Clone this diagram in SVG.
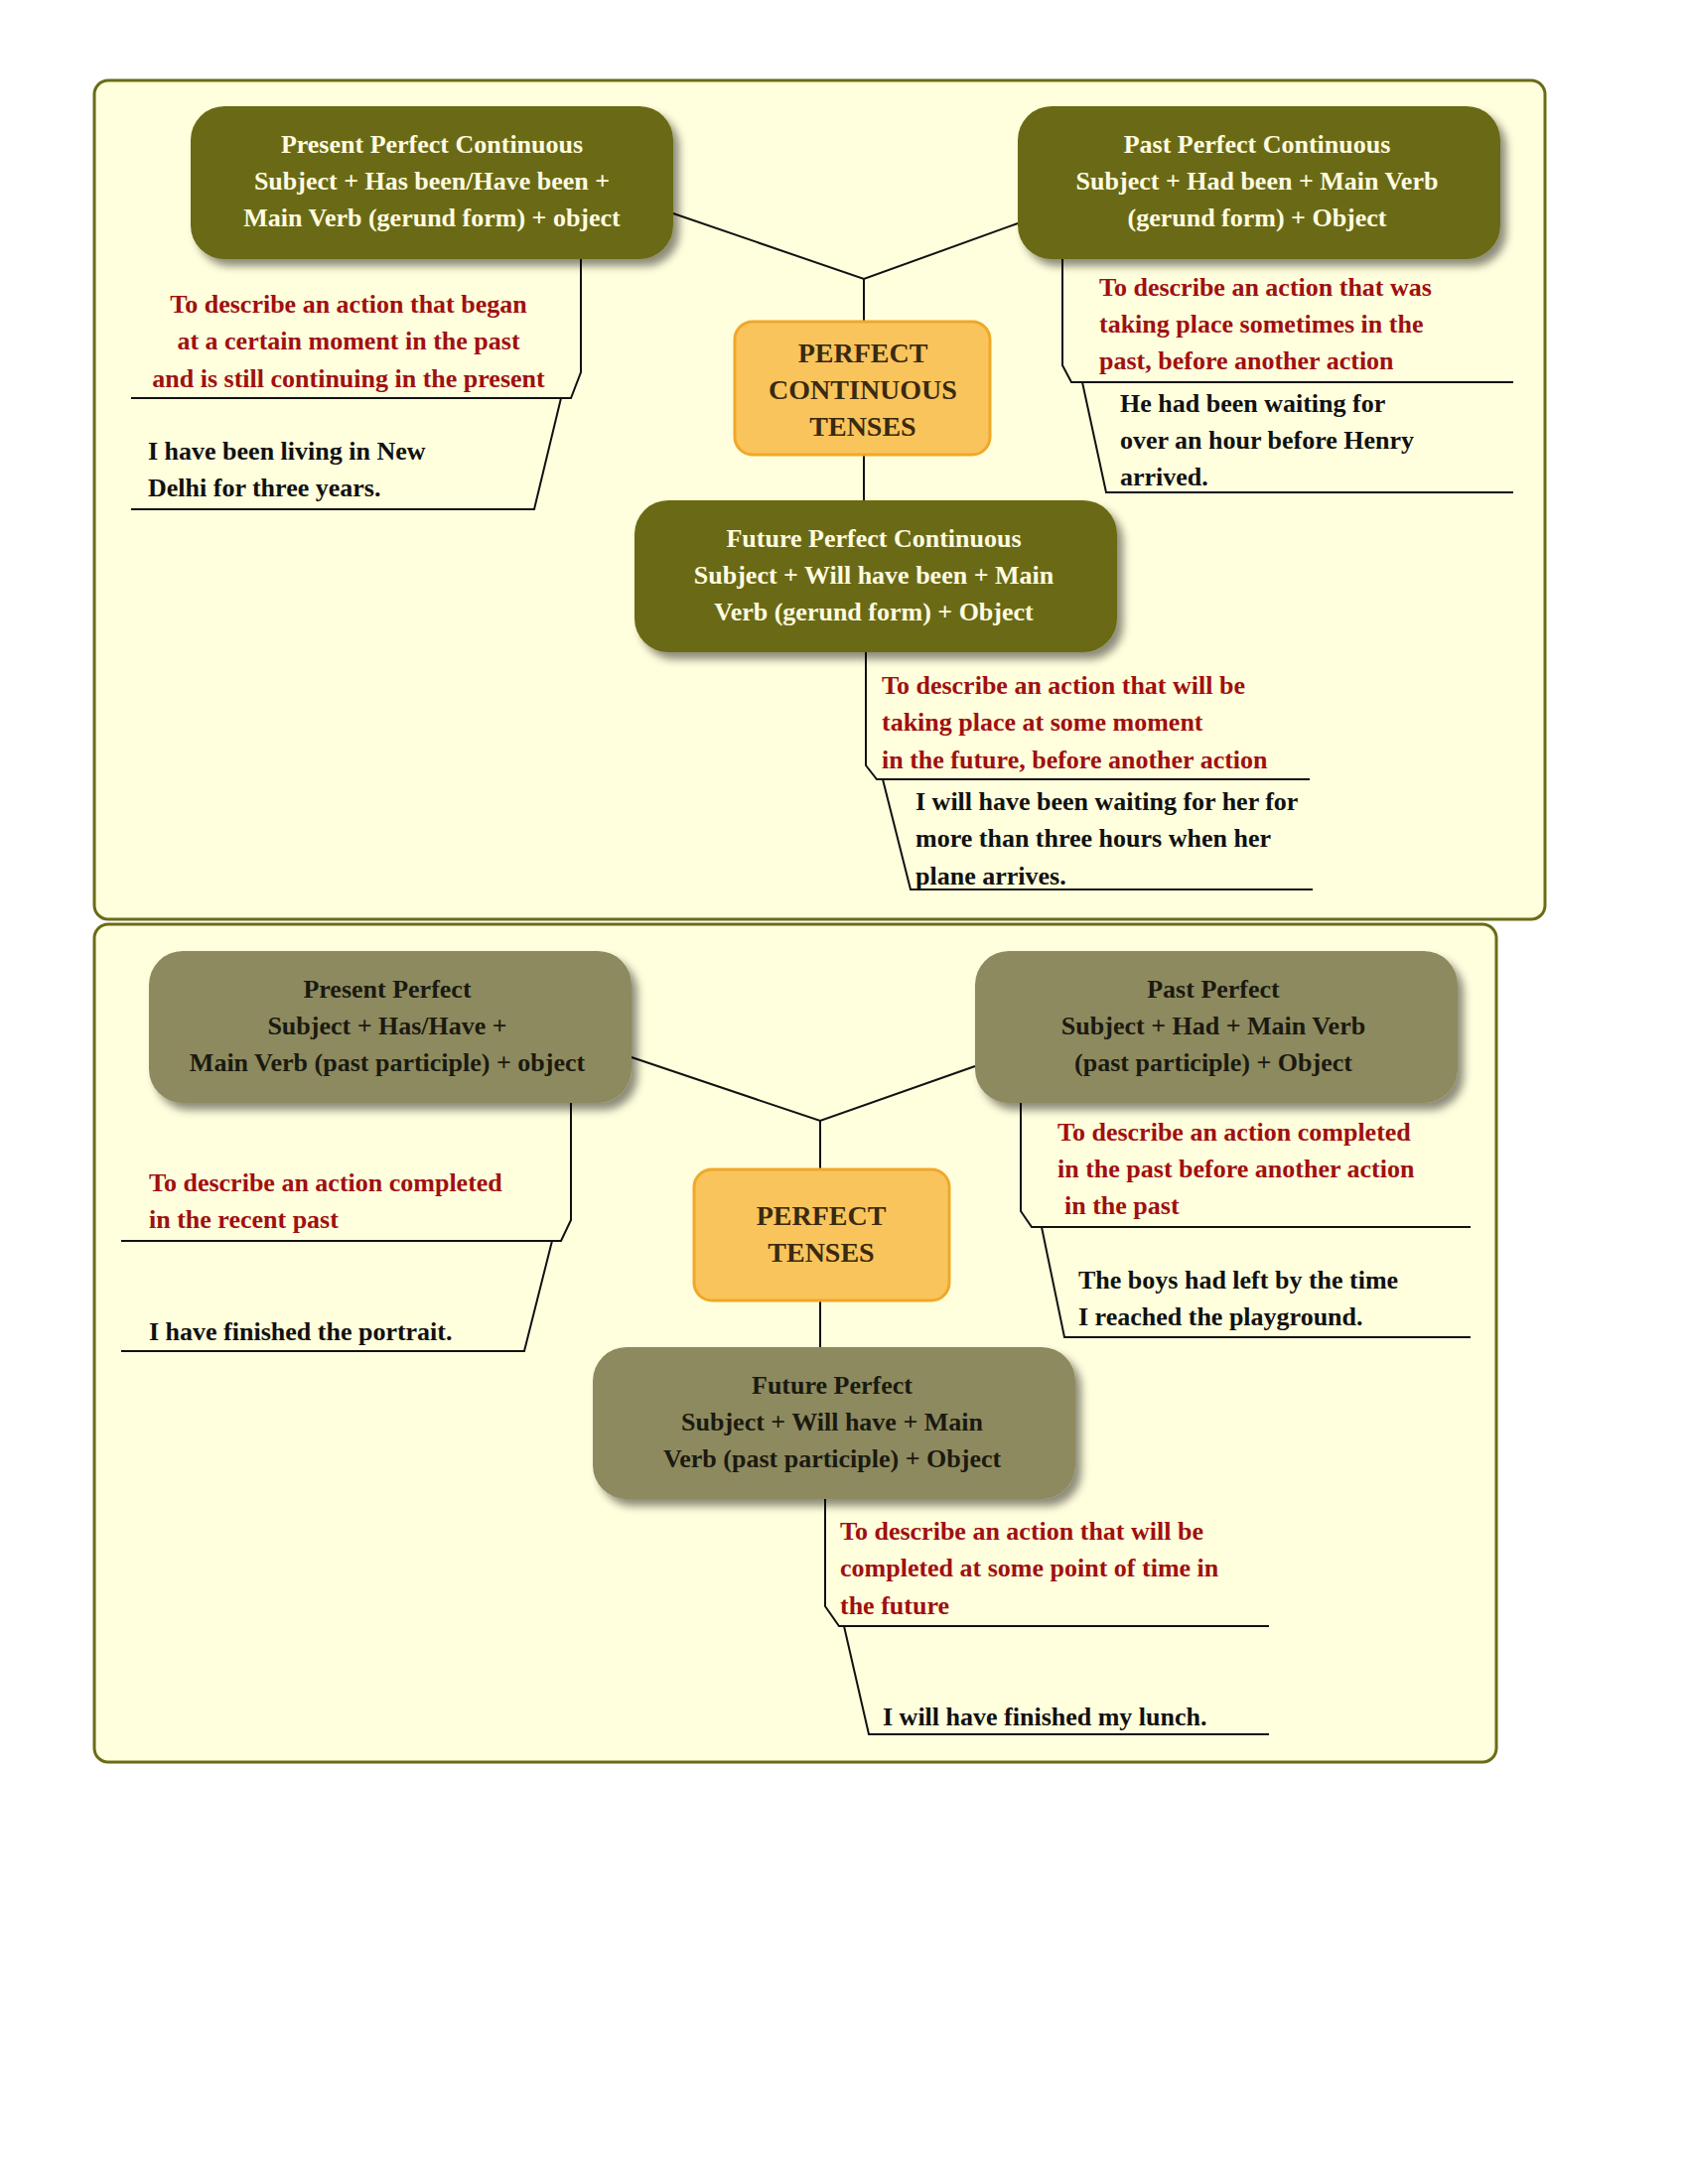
<svg xmlns="http://www.w3.org/2000/svg" width="1700" height="2200" viewBox="0 0 1700 2200">
<defs>
<filter id="sh" x="-10%" y="-10%" width="130%" height="140%"><feDropShadow dx="6" dy="7" stdDeviation="4" flood-color="#000" flood-opacity="0.45"/></filter>
<style>
.frame{fill:#fffedd;stroke:#6b6b18;stroke-width:3}
.dk{fill:#6b6b18}
.lt{fill:#8e8a5e}
.ctr{fill:#f9c45c;stroke:#f0a828;stroke-width:3}
text{font-family:"Liberation Serif",serif;font-weight:bold;font-size:26px}
.wt{fill:#fffbe0;text-anchor:middle}
.bt{fill:#1a1a10;text-anchor:middle}
.ct{fill:#3a2a10;text-anchor:middle;font-size:28px}
.rd{fill:#a01010}
.ex{fill:#111}
.ln{fill:none;stroke:#111;stroke-width:2}
</style>
</defs>
<rect width="1700" height="2200" fill="#fff"/>
<rect class="frame" x="95" y="81" width="1461" height="845" rx="14"/>
<rect class="frame" x="95" y="931" width="1412" height="844" rx="14"/>
<g id="connectors">
<path class="ln" d="M678,215 L870,281 L1025,225 M870,281 V324 M870,458 V504"/>
<path class="ln" d="M585,261 V375 L575,401 H132 M565,401 L538,513 H132"/>
<path class="ln" d="M1070,261 V368 L1079,385 H1524 M1090,385 L1114,496 H1524"/>
<path class="ln" d="M872,657 V771 L883,785 H1319 M889,785 L917,896 H1322"/>
<path class="ln" d="M636,1065 L826,1129 L982,1074 M826,1129 V1178 M826,1310 V1357"/>
<path class="ln" d="M575,1111 V1229 L565,1250 H122 M556,1250 L528,1361 H122"/>
<path class="ln" d="M1028,1111 V1220 L1039,1236 H1481 M1049,1236 L1072,1347 H1481"/>
<path class="ln" d="M831,1510 V1618 L845,1638 H1278 M850,1638 L875,1747 H1278"/>
</g>
<g id="ppc"><rect class="dk" x="192" y="107" width="486" height="154" rx="34" filter="url(#sh)"/>
<text class="wt" x="435" y="154">Present Perfect Continuous</text><text class="wt" x="435" y="191">Subject + Has been/Have been +</text><text class="wt" x="435" y="228">Main Verb (gerund form) + object</text></g>
<g id="pastpc"><rect class="dk" x="1025" y="107" width="486" height="154" rx="34" filter="url(#sh)"/>
<text class="wt" x="1266" y="154">Past Perfect Continuous</text><text class="wt" x="1266" y="191">Subject + Had been + Main Verb</text><text class="wt" x="1266" y="228">(gerund form) + Object</text></g>
<g id="pct"><rect class="ctr" x="740" y="324" width="257" height="134" rx="18"/>
<text class="ct" x="869" y="365">PERFECT</text><text class="ct" x="869" y="402">CONTINUOUS</text><text class="ct" x="869" y="439">TENSES</text></g>
<g id="fpc"><rect class="dk" x="639" y="504" width="486" height="153" rx="34" filter="url(#sh)"/>
<text class="wt" x="880" y="551">Future Perfect Continuous</text><text class="wt" x="880" y="588">Subject + Will have been + Main</text><text class="wt" x="880" y="625">Verb (gerund form) + Object</text></g>
<g id="ppc-notes">
<text class="rd" x="351" y="315" text-anchor="middle">To describe an action that began</text>
<text class="rd" x="351" y="352" text-anchor="middle">at a certain moment in the past</text>
<text class="rd" x="351" y="390" text-anchor="middle">and is still continuing in the present</text>
<text class="ex" x="149" y="463">I have been living in New</text>
<text class="ex" x="149" y="500">Delhi for three years.</text></g>
<g id="pastpc-notes">
<text class="rd" x="1107" y="298">To describe an action that was</text>
<text class="rd" x="1107" y="335">taking place sometimes in the</text>
<text class="rd" x="1107" y="372">past, before another action</text>
<text class="ex" x="1128" y="415">He had been waiting for</text>
<text class="ex" x="1128" y="452">over an hour before Henry</text>
<text class="ex" x="1128" y="489">arrived.</text></g>
<g id="fpc-notes">
<text class="rd" x="888" y="699">To describe an action that will be</text>
<text class="rd" x="888" y="736">taking place at some moment</text>
<text class="rd" x="888" y="774">in the future, before another action</text>
<text class="ex" x="922" y="816">I will have been waiting for her for</text>
<text class="ex" x="922" y="853">more than three hours when her</text>
<text class="ex" x="922" y="891">plane arrives.</text></g>
<g id="pp"><rect class="lt" x="150" y="958" width="486" height="153" rx="34" filter="url(#sh)"/>
<text class="bt" x="390" y="1005">Present Perfect</text><text class="bt" x="390" y="1042">Subject + Has/Have +</text><text class="bt" x="390" y="1079">Main Verb (past participle) + object</text></g>
<g id="pastp"><rect class="lt" x="982" y="958" width="486" height="153" rx="34" filter="url(#sh)"/>
<text class="bt" x="1222" y="1005">Past Perfect</text><text class="bt" x="1222" y="1042">Subject + Had + Main Verb</text><text class="bt" x="1222" y="1079">(past participle) + Object</text></g>
<g id="pt"><rect class="ctr" x="699" y="1178" width="257" height="132" rx="18"/>
<text class="ct" x="827" y="1234">PERFECT</text><text class="ct" x="827" y="1271">TENSES</text></g>
<g id="fp"><rect class="lt" x="597" y="1357" width="486" height="153" rx="34" filter="url(#sh)"/>
<text class="bt" x="838" y="1404">Future Perfect</text><text class="bt" x="838" y="1441">Subject + Will have + Main</text><text class="bt" x="838" y="1478">Verb (past participle) + Object</text></g>
<g id="pp-notes">
<text class="rd" x="150" y="1200">To describe an action completed</text>
<text class="rd" x="150" y="1237">in the recent past</text>
<text class="ex" x="150" y="1350">I have finished the portrait.</text></g>
<g id="pastp-notes">
<text class="rd" x="1065" y="1149">To describe an action completed</text>
<text class="rd" x="1065" y="1186">in the past before another action</text>
<text class="rd" x="1072" y="1223">in the past</text>
<text class="ex" x="1086" y="1298">The boys had left by the time</text>
<text class="ex" x="1086" y="1335">I reached the playground.</text></g>
<g id="fp-notes">
<text class="rd" x="846" y="1551">To describe an action that will be</text>
<text class="rd" x="846" y="1588">completed at some point of time in</text>
<text class="rd" x="846" y="1626">the future</text>
<text class="ex" x="889" y="1738">I will have finished my lunch.</text></g>
</svg>
